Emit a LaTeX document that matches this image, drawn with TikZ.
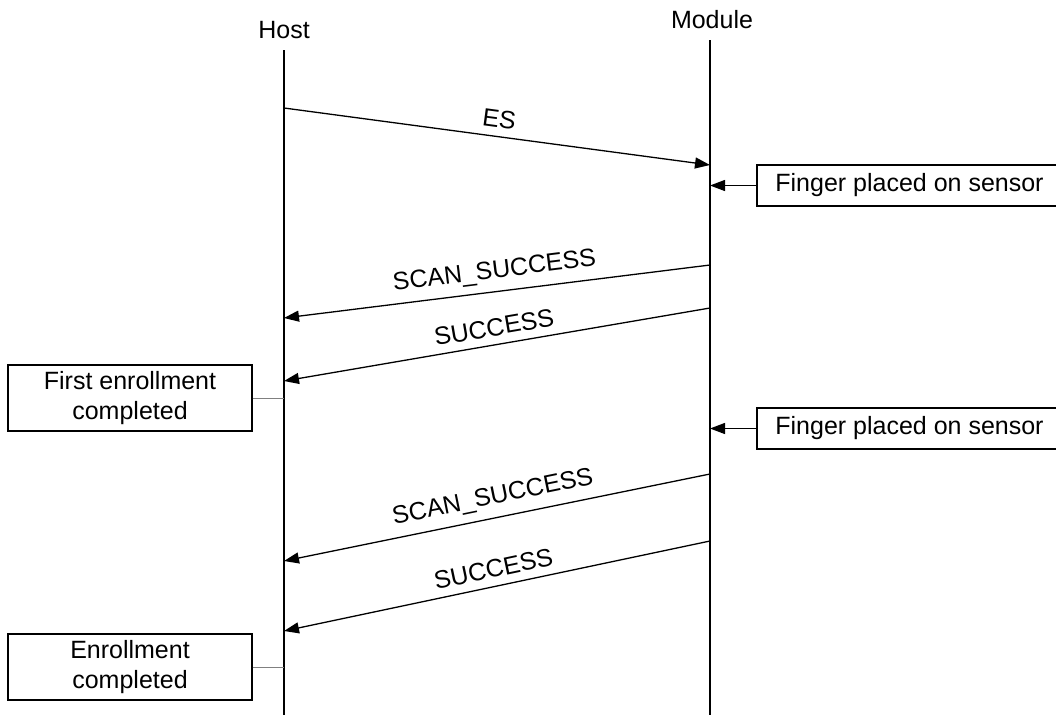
\documentclass[tikz,border=0pt]{standalone}
\usepackage{fontspec}
\setmainfont{Liberation Sans}
\usetikzlibrary{arrows.meta,positioning}

\begin{document}
\begin{tikzpicture}[x=1pt, y=-1pt, every node/.style={font=\fontsize{25}{30}\selectfont},
    life/.style={line width=1.3pt},
    msg/.style={-{Triangle[length=15pt,width=11pt]}, line width=1.3pt},
    note/.style={draw, line width=1.3pt, align=center, inner sep=0pt},
    lbl/.style={sloped, above=8pt, inner sep=0pt}]
    \useasboundingbox (0,0) rectangle (1056,715);

    % lifelines
    \node (host) at (284,30) {Host};
    \node (module) at (712,20) {Module};
    \coordinate (h0) at (284,50);
    \coordinate (h1) at (284,715);
    \coordinate (m0) at (710,40);
    \coordinate (m1) at (710,715);
    \draw[life] (h0) -- (h1);
    \draw[life] (m0) -- (m1);

    % enroll command
    \coordinate (es-h) at (284,108);
    \coordinate (es-m) at (710,165);
    \draw[msg] (es-h) -- node[lbl] {ES} (es-m);

    % first scan
    \node[note, minimum width=305, minimum height=41] (finger1) at (909.5,185.5) {Finger placed on sensor};
    \draw[msg] (finger1.west) -- (finger1.west -| m0);

    \coordinate (scan1-m) at (710,265);
    \coordinate (scan1-h) at (284,318);
    \draw[msg] (scan1-m) -- node[lbl] {SCAN\_SUCCESS} (scan1-h);

    \coordinate (ok1-m) at (710,308);
    \coordinate (ok1-h) at (284,381);
    \draw[msg] (ok1-m) -- node[lbl] {SUCCESS} (ok1-h);

    \node[note, minimum width=244, minimum height=66] (first) at (130,398) {First enrollment\\completed};
    \draw[gray, line width=1pt] (first.east) -- (first.east -| h0);

    % second scan
    \node[note, minimum width=305, minimum height=41] (finger2) at (909.5,428.5) {Finger placed on sensor};
    \draw[msg] (finger2.west) -- (finger2.west -| m0);

    \coordinate (scan2-m) at (710,474);
    \coordinate (scan2-h) at (284,561);
    \draw[msg] (scan2-m) -- node[lbl] {SCAN\_SUCCESS} (scan2-h);

    \coordinate (ok2-m) at (710,541);
    \coordinate (ok2-h) at (284,631);
    \draw[msg] (ok2-m) -- node[lbl] {SUCCESS} (ok2-h);

    \node[note, minimum width=244, minimum height=66] (done) at (130,667) {Enrollment\\completed};
    \draw[gray, line width=1pt] (done.east) -- (done.east -| h0);
\end{tikzpicture}
\end{document}
